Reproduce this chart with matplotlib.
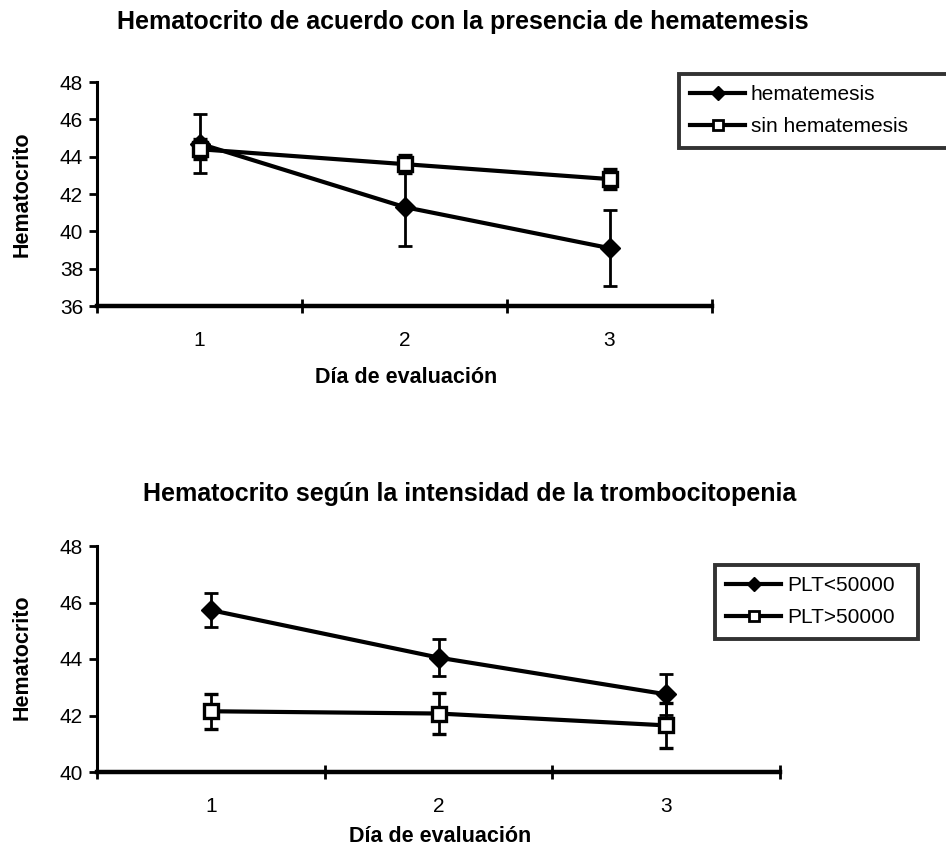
import matplotlib
matplotlib.use("Agg")
import matplotlib.pyplot as plt
from matplotlib.lines import Line2D

plt.rcParams['font.family'] = ['Liberation Sans', 'DejaVu Sans']

days = [1, 2, 3]
day_labels = ["1", "2", "3"]

# Top chart
hema = [44.7, 41.3, 39.1]
hema_err = [1.6, 2.1, 2.05]
sin_hema = [44.4, 43.6, 42.8]
sin_hema_err = [0.55, 0.5, 0.55]
top_labels = ["hematemesis", "sin hematemesis"]
top_yticks = [36, 38, 40, 42, 44, 46, 48]

# Bottom chart
plt_low = [45.73, 44.05, 42.75]
plt_low_err = [0.6, 0.66, 0.72]
plt_high = [42.15, 42.07, 41.65]
plt_high_err = [0.62, 0.74, 0.8]
bot_labels = ["PLT<50000", "PLT>50000"]
bot_yticks = [40, 42, 44, 46, 48]

W, H = 946, 850
fig = plt.figure(figsize=(W / 100, H / 100), dpi=100)

def px(x0, y0, x1, y1):
    return [x0 / W, 1 - y1 / H, (x1 - x0) / W, (y1 - y0) / H]

def style_axes(ax, yticks):
    for s in ["top", "right"]:
        ax.spines[s].set_visible(False)
    ax.spines["left"].set_linewidth(2.2)
    ax.spines["bottom"].set_linewidth(3.2)
    ax.set_xlim(0.5, 3.5)
    ax.set_ylim(yticks[0], yticks[-1])
    ax.set_yticks(yticks)
    ax.set_xticks([0.5, 1.5, 2.5, 3.5])
    ax.set_xticklabels([])
    ax.set_xticks(days, minor=True)
    ax.set_xticklabels(day_labels, minor=True)
    ax.tick_params(axis="x", which="major", direction="inout", length=10, width=2)
    ax.tick_params(axis="x", which="minor", length=0, pad=18, labelsize=15)
    ax.tick_params(axis="y", direction="out", length=6, width=2, labelsize=15, pad=4)

def draw(ax, y1, e1, y2, e2):
    kw = dict(color="black", ecolor="black", elinewidth=2, capsize=5, capthick=2,
              lw=3, zorder=3)
    ax.errorbar(days, y1, yerr=e1, marker="D", ms=10, mfc="black", mec="black", **kw)
    ax.errorbar(days, y2, yerr=e2, marker="s", ms=10, mfc="white", mec="black",
                mew=2.4, **kw)
    h1 = Line2D([], [], color="black", lw=3, marker="D", ms=7, mfc="black", mec="black")
    h2 = Line2D([], [], color="black", lw=3, marker="s", ms=7, mfc="white", mec="black", mew=2)
    return [h1, h2]

def add_legend(ax, handles, labels, x0, y0, x1, y1):
    lg = ax.legend(handles, labels, loc="upper left", mode="expand",
                   bbox_to_anchor=(x0 / W, 1 - y1 / H, (x1 - x0) / W, (y1 - y0) / H),
                   bbox_transform=fig.transFigure, fontsize=15, frameon=True,
                   fancybox=False, edgecolor="black", handlelength=2.6,
                   handletextpad=0.3, borderpad=0.55, labelspacing=0.62,
                   borderaxespad=0)
    lg.get_frame().set_linewidth(2.8)
    return lg

# top
ax1 = fig.add_axes(px(97, 82, 712, 306))
style_axes(ax1, top_yticks)
hs = draw(ax1, hema, hema_err, sin_hema, sin_hema_err)
add_legend(ax1, hs, top_labels, 679, 74, 960, 144)
fig.text(463 / W, 1 - 22 / H, "Hematocrito de acuerdo con la presencia de hematemesis",
         ha="center", va="center", fontsize=18, fontweight="bold")
fig.text(406 / W, 1 - 377 / H, "Día de evaluación", ha="center", va="center",
         fontsize=15.5, fontweight="bold")
fig.text(22 / W, 1 - 194 / H, "Hematocrito", ha="center", va="center",
         rotation=90, fontsize=15.5, fontweight="bold")

# bottom
ax2 = fig.add_axes(px(97, 546, 780, 772))
style_axes(ax2, bot_yticks)
hs = draw(ax2, plt_low, plt_low_err, plt_high, plt_high_err)
add_legend(ax2, hs, bot_labels, 715, 565, 918, 634)
fig.text(470 / W, 1 - 494 / H, "Hematocrito según la intensidad de la trombocitopenia",
         ha="center", va="center", fontsize=18, fontweight="bold")
fig.text(440 / W, 1 - 836 / H, "Día de evaluación", ha="center", va="center",
         fontsize=15.5, fontweight="bold")
fig.text(22 / W, 1 - 657 / H, "Hematocrito", ha="center", va="center",
         rotation=90, fontsize=15.5, fontweight="bold")

fig.savefig("out.png", dpi=100)
